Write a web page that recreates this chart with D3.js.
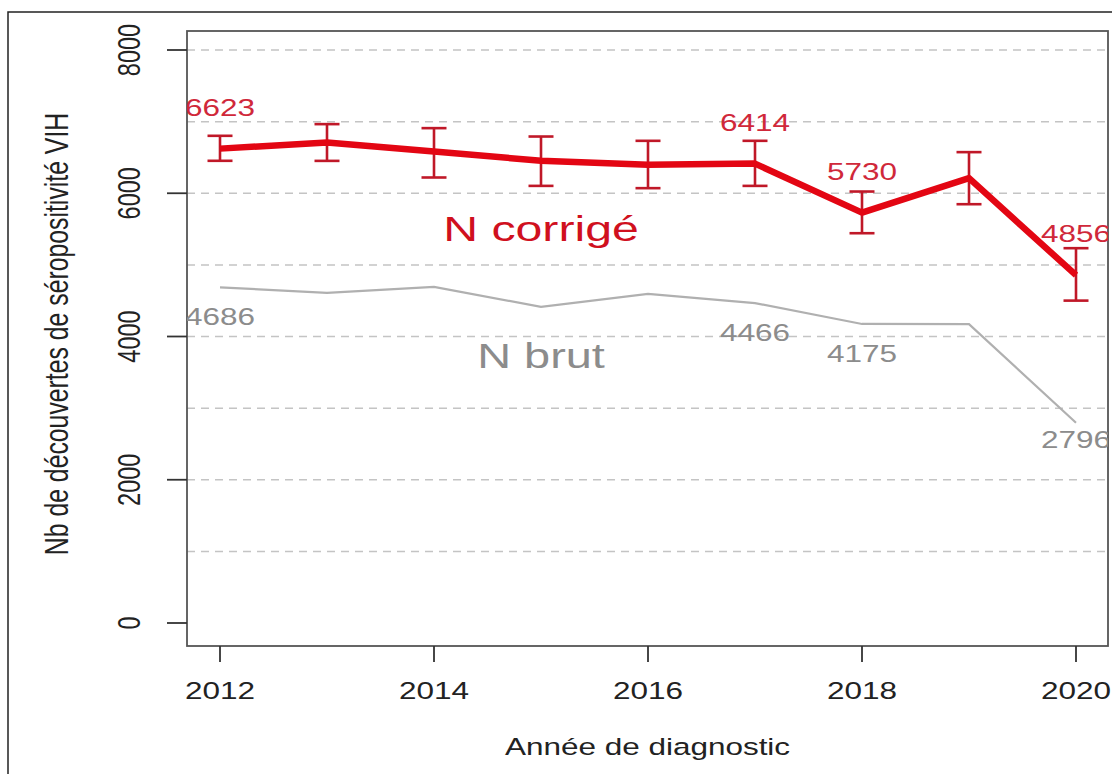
<!DOCTYPE html>
<html>
<head>
<meta charset="utf-8">
<script src="https://cdn.jsdelivr.net/npm/d3@7"></script>
<style>
  body { margin: 0; background: #fff; }
  svg { display: block; }
  text { font-family: "Liberation Sans", Arial, Helvetica, sans-serif; }
</style>
</head>
<body>
<div id="chart"></div>
<script>
// data
var years = [2012, 2013, 2014, 2015, 2016, 2017, 2018, 2019, 2020];
var nCorrige = [6623, 6708, 6583, 6453, 6397, 6414, 5730, 6211, 4856];
var ciLow = [6453, 6452, 6220, 6103, 6071, 6103, 5442, 5847, 4501];
var ciHigh = [6802, 6965, 6909, 6792, 6732, 6732, 6024, 6574, 5233];
var nBrut = [4686, 4609, 4693, 4413, 4595, 4466, 4175, 4172, 2796];
var labelledYears = [2012, 2017, 2018, 2020];
var xTicks = [2012, 2014, 2016, 2018, 2020];
var yTicks = [0, 2000, 4000, 6000, 8000];
var gridValues = [1000, 2000, 3000, 4000, 5000, 6000, 7000, 8000];

var width = 1112, height = 774;
var box = {left: 187, right: 1108, top: 31, bottom: 646};
var SX = 1.34; // the picture is stretched sideways, so is the text

var svg = d3.select("#chart").append("svg")
    .attr("width", width)
    .attr("height", height);

var x = d3.scaleLinear().domain([2012, 2020]).range([220, 1076]);
var y = d3.scaleLinear().domain([0, 8000]).range([623, 50]);

// outer frame
svg.append("rect")
    .attr("x", 8).attr("y", 12)
    .attr("width", 1200).attr("height", 900)
    .attr("fill", "none")
    .attr("stroke", "#222")
    .attr("stroke-width", 1.5);

svg.append("clipPath").attr("id", "plotclip")
  .append("rect")
    .attr("x", box.left).attr("y", box.top)
    .attr("width", box.right - box.left)
    .attr("height", box.bottom - box.top);

function stretchedText(g, px, py, str, size, fill, anchor) {
    return g.append("text")
        .attr("transform", "translate(" + px + "," + py + ") scale(" + SX + ",1)")
        .attr("text-anchor", anchor || "middle")
        .attr("font-size", size)
        .attr("fill", fill)
        .text(str);
}

// dashed grid
svg.append("g").selectAll("line")
    .data(gridValues)
    .join("line")
    .attr("x1", box.left).attr("x2", box.right)
    .attr("y1", function(d) { return y(d); })
    .attr("y2", function(d) { return y(d); })
    .attr("stroke", "#c4c4c4")
    .attr("stroke-width", 1.5)
    .attr("stroke-dasharray", "8,6");

// plot box
svg.append("rect")
    .attr("x", box.left).attr("y", box.top)
    .attr("width", box.right - box.left)
    .attr("height", box.bottom - box.top)
    .attr("fill", "none")
    .attr("stroke", "#555")
    .attr("stroke-width", 1.8);

// y axis: ticks + rotated labels
var yAxis = svg.append("g");
yAxis.selectAll("line")
    .data(yTicks)
    .join("line")
    .attr("x1", box.left - 20).attr("x2", box.left)
    .attr("y1", function(d) { return y(d); })
    .attr("y2", function(d) { return y(d); })
    .attr("stroke", "#333")
    .attr("stroke-width", 1.8);
yAxis.selectAll("text")
    .data(yTicks)
    .join("text")
    .attr("transform", function(d) {
        return "translate(140," + y(d) + ") rotate(-90) scale(1," + SX + ")";
    })
    .attr("text-anchor", "middle")
    .attr("font-size", 23.5)
    .attr("fill", "#222")
    .text(function(d) { return d; });

// x axis
var xAxis = svg.append("g");
xAxis.selectAll("line")
    .data(xTicks)
    .join("line")
    .attr("x1", function(d) { return x(d); })
    .attr("x2", function(d) { return x(d); })
    .attr("y1", box.bottom).attr("y2", box.bottom + 16)
    .attr("stroke", "#333")
    .attr("stroke-width", 1.8);
xTicks.forEach(function(d) {
    stretchedText(xAxis, x(d), 699, d, 23.5, "#222");
});

// axis titles
stretchedText(svg, (box.left + box.right) / 2, 755, "Année de diagnostic", 23.5, "#222");
svg.append("text")
    .attr("transform", "translate(68,334) rotate(-90) scale(1," + SX + ")")
    .attr("text-anchor", "middle")
    .attr("font-size", 24.8)
    .attr("fill", "#222")
    .text("Nb de découvertes de séropositivité VIH");

var plot = svg.append("g").attr("clip-path", "url(#plotclip)");

// N brut
var seriesLine = d3.line()
    .x(function(d, i) { return x(years[i]); })
    .y(function(d) { return y(d); });
plot.append("path")
    .datum(nBrut)
    .attr("d", seriesLine)
    .attr("fill", "none")
    .attr("stroke", "#b0b0b0")
    .attr("stroke-width", 2.2);

// N corrigé with error bars
var ci = plot.append("g")
    .attr("stroke", "#c01828")
    .attr("stroke-width", 2.6);
years.forEach(function(yr, i) {
    var cx = x(yr);
    ci.append("line")
        .attr("x1", cx).attr("x2", cx)
        .attr("y1", y(ciLow[i])).attr("y2", y(ciHigh[i]));
    ci.append("line")
        .attr("x1", cx - 12.5).attr("x2", cx + 12.5)
        .attr("y1", y(ciLow[i])).attr("y2", y(ciLow[i]));
    ci.append("line")
        .attr("x1", cx - 12.5).attr("x2", cx + 12.5)
        .attr("y1", y(ciHigh[i])).attr("y2", y(ciHigh[i]));
});
plot.append("path")
    .datum(nCorrige)
    .attr("d", seriesLine)
    .attr("fill", "none")
    .attr("stroke", "#e30613")
    .attr("stroke-width", 6.5)
    .attr("stroke-linejoin", "round");

// value labels
labelledYears.forEach(function(yr) {
    var i = years.indexOf(yr);
    stretchedText(plot, x(yr), y(nCorrige[i]) - 33, nCorrige[i], 23.5, "#d0283a");
    var below = yr === 2020 ? 25 : 38;
    stretchedText(plot, x(yr), y(nBrut[i]) + below, nBrut[i], 23.5, "#8c8c8c");
});

// series names
stretchedText(plot, x(2015), 241, "N corrigé", 36, "#d0101e");
stretchedText(plot, x(2015), 368, "N brut", 35, "#8c8c8c");
</script>
</body>
</html>
